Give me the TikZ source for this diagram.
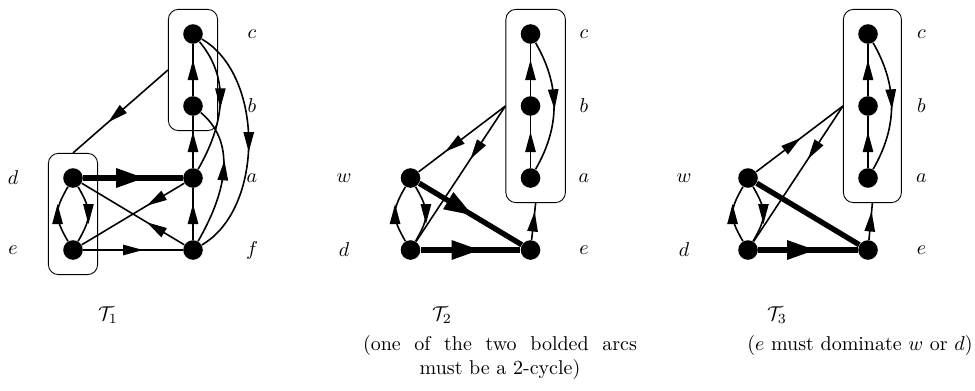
\documentclass[tikz,border=0pt]{standalone}
\usetikzlibrary{arrows.meta, decorations.markings, fit}

\tikzset{
  vtx/.style={circle, fill=black, inner sep=0pt, minimum size=9.8pt},
  grp/.style={draw, line width=0.45pt, rounded corners=5pt, inner sep=7.2pt},
  tarc/.style={line width=0.8pt, postaction={decorate},
    decoration={markings, mark=at position #1 with
      {\arrow[xshift=5pt]{Triangle[length=10pt,width=5.4pt,line width=0pt]}}}},
  tarc/.default=0.5,
  barc/.style={line width=2.7pt, postaction={decorate},
    decoration={markings, mark=at position #1 with
      {\arrow[xshift=7pt]{Triangle[length=14pt,width=10pt,line width=0pt]}}}},
  barc/.default=0.5,
  bline/.style={line width=2.7pt},
}

\begin{document}
\begin{tikzpicture}[x=0.5pt, y=-0.5pt]
  \useasboundingbox (0,0) rectangle (975,391);

  % T1
  \node[vtx] (c1) at (193,34) {};
  \node[vtx] (b1) at (193,106) {};
  \node[vtx] (a1) at (193,178) {};
  \node[vtx] (f1) at (193,250) {};
  \node[vtx] (d1) at (73,178) {};
  \node[vtx] (e1) at (73,250) {};
  \node (lc1) at (252,34) {$c$};
  \node (lb1) at (252,106) {$b$};
  \node (la1) at (252,178) {$a$};
  \node (lf1) at (252,250) {$f$};
  \node (ld1) at (13,178) {$d$};
  \node (le1) at (13,250) {$e$};
  \node[grp, fit=(c1)(b1)] (cb1) {};
  \node[grp, fit=(d1)(e1)] (de1) {};

  \draw[tarc] (a1) -- (b1);
  \draw[tarc] (b1) -- (c1);
  \draw[tarc] (f1) -- (a1);
  \draw[barc=0.47] (d1) -- (a1);
  \draw[tarc] (e1) -- (f1);
  \draw[tarc=0.28] (f1) -- (d1);
  \draw[tarc=0.28] (a1) -- (e1);
  \draw[tarc] (e1) to[out=120,in=-120,looseness=1.3] (d1);
  \draw[tarc] (d1) to[out=-60,in=60,looseness=1.3] (e1);
  \draw[tarc=0.45] (c1) to[out=-50,in=60] (a1);
  \draw[tarc=0.54] (f1) to[out=60,in=-40] (b1);
  \draw[tarc] (c1) to[out=-30,in=30,looseness=0.9] (f1);
  \draw[tarc=0.55] (cb1.west) -- (de1.north);

  % T2
  \node[vtx] (c2) at (530.5,34) {};
  \node[vtx] (b2) at (530.5,106) {};
  \node[vtx] (a2) at (530.5,178) {};
  \node[vtx] (e2) at (530.5,250) {};
  \node[vtx] (w2) at (410.5,178) {};
  \node[vtx] (d2) at (410.5,250) {};
  \node (lc2) at (584,34) {$c$};
  \node (lb2) at (584,106) {$b$};
  \node (la2) at (584,178) {$a$};
  \node (le2) at (584,250) {$e$};
  \node (lw2) at (344,178) {$w$};
  \node (ld2) at (344,250) {$d$};
  \coordinate (r2) at (551,106);
  \node[grp, fit=(c2)(a2)(r2)] (box2) {};

  \draw[tarc] (a2) -- (b2);
  \draw[tarc] (b2) -- (c2);
  \draw[tarc=0.45] (c2) to[out=-60,in=60] (a2);
  \draw[tarc] (e2) -- (box2.south);
  \draw[tarc=0.6] (box2.west) -- (w2);
  \draw[tarc=0.33] (box2.west) -- (d2);
  \draw[barc=0.4] (w2) -- (e2);
  \draw[barc=0.45] (d2) -- (e2);
  \draw[tarc] (d2) to[out=120,in=-120,looseness=1.3] (w2);
  \draw[tarc] (w2) to[out=-60,in=60,looseness=1.3] (d2);

  % T3
  \node[vtx] (c3) at (868,34) {};
  \node[vtx] (b3) at (868,106) {};
  \node[vtx] (a3) at (868,178) {};
  \node[vtx] (e3) at (868,250) {};
  \node[vtx] (w3) at (748,178) {};
  \node[vtx] (d3) at (748,250) {};
  \node (lc3) at (921.5,34) {$c$};
  \node (lb3) at (921.5,106) {$b$};
  \node (la3) at (921.5,178) {$a$};
  \node (le3) at (921.5,250) {$e$};
  \node (lw3) at (684,178) {$w$};
  \node (ld3) at (684,250) {$d$};
  \coordinate (r3) at (887,106);
  \node[grp, fit=(c3)(a3)(r3)] (box3) {};

  \draw[tarc] (a3) -- (b3);
  \draw[tarc] (b3) -- (c3);
  \draw[tarc=0.45] (c3) to[out=-60,in=60] (a3);
  \draw[tarc] (e3) -- (box3.south);
  \draw[tarc=0.42] (w3) -- (box3.west);
  \draw[tarc=0.33] (box3.west) -- (d3);
  \draw[bline] (w3) -- (e3);
  \draw[barc=0.43] (d3) -- (e3);
  \draw[tarc] (d3) to[out=120,in=-120,looseness=1.3] (w3);
  \draw[tarc] (w3) to[out=-60,in=60,looseness=1.3] (d3);

  % captions
  \node (t1) at (108,315) {$\mathcal{T}_1$};
  \node (t2) at (442,315) {$\mathcal{T}_2$};
  \node (t3) at (777,315) {$\mathcal{T}_3$};
  \node[align=center] (n2) at (500,357)
    {\makebox[137pt][s]{(one of the two bolded arcs}\\must be a 2-cycle)};
  \node (n3) at (860,345) {($e$ must dominate $w$ or $d$)};
\end{tikzpicture}
\end{document}
